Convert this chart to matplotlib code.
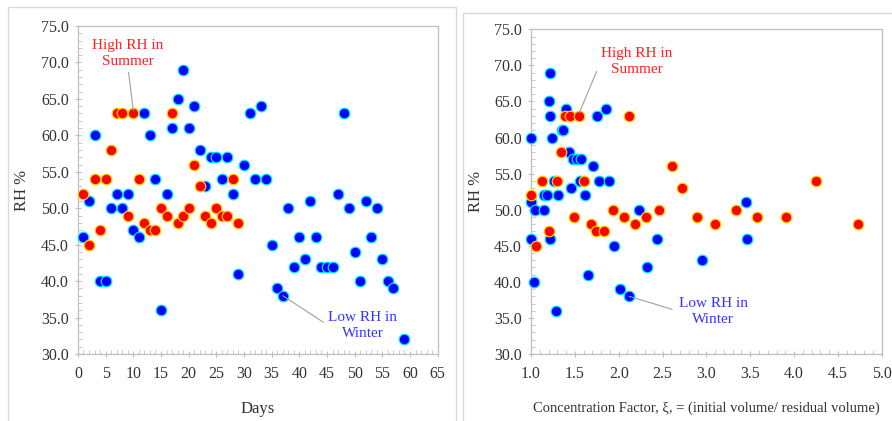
import matplotlib
matplotlib.use('Agg')
import matplotlib.pyplot as plt
from matplotlib.patches import Rectangle
from matplotlib.ticker import MultipleLocator, FormatStrFormatter

plt.rcParams['font.family'] = ['Liberation Serif', 'DejaVu Serif']
plt.rcParams['font.size'] = 11

# left panel: RH against sampling day
summer_days = list(range(1, 30))
summer_rh = [52, 45, 54, 47, 54, 58, 63, 63, 49, 63, 54, 48, 47, 47, 50, 49, 63, 48, 49, 50,
             56, 53, 49, 48, 50, 49, 49, 54, 48]
winter_days = list(range(1, 58)) + [59]
winter_rh = [46, 51, 60, 40, 40, 50, 52, 50, 52, 47, 46, 63, 60, 54, 36, 52, 61, 65, 69, 61,
             64, 58, 53, 57, 57, 54, 57, 52, 41, 56, 63, 54, 64, 54, 45, 39, 38, 50, 42, 46,
             43, 51, 46, 42, 42, 42, 52, 63, 50, 44, 40, 51, 46, 50, 43, 40, 39, 32]

# right panel: RH against concentration factor
summer_cf = [1.00, 1.06, 1.13, 1.21, 1.30, 1.34, 1.39, 1.45, 1.49, 1.55, 1.61, 1.68, 1.74, 1.83,
             1.94, 2.06, 2.12, 2.19, 2.31, 2.46, 2.61, 2.72, 2.89, 3.10, 3.34, 3.58, 3.91, 4.25, 4.73]
winter_cf = [1.00, 1.00, 1.00, 1.03, 1.04, 1.15, 1.15, 1.18, 1.21, 1.22, 1.22, 1.22, 1.24, 1.26,
             1.28, 1.31, 1.35, 1.365, 1.40, 1.43, 1.46, 1.48, 1.52, 1.555, 1.57, 1.62, 1.65, 1.71,
             1.75, 1.78, 1.85, 1.89, 1.95, 2.02, 2.12, 2.23, 2.32, 2.44, 2.95, 3.45, 3.46]
winter_cf_rh = [46, 51, 60, 40, 50, 50, 52, 52, 65, 69, 63, 46, 60, 54, 36, 52, 61, 61, 64, 58,
                53, 57, 57, 54, 57, 52, 41, 56, 63, 54, 64, 54, 45, 39, 38, 50, 42, 46, 43, 51, 46]

blue = '#0000ff'
cyan = '#00e5ff'
red = '#ff0000'
yellow = '#ffd000'
gray = '#bfbfbf'
red_txt = '#ff2020'
blue_txt = '#3333ff'

fig = plt.figure(figsize=(8.92, 4.21), dpi=100)

# outer chart frames
fig.patches.append(Rectangle((8 / 892, -0.05), (456 - 8) / 892, 1.05 - 7 / 421,
                             transform=fig.transFigure, fill=False, edgecolor='#d9d9d9', lw=1))
fig.patches.append(Rectangle((463 / 892, -0.05), 0.6, 1.05 - 13 / 421,
                             transform=fig.transFigure, fill=False, edgecolor='#d9d9d9', lw=1))

ax1 = fig.add_axes([0.0874, 0.1591, 0.4033, 0.7791])
ax2 = fig.add_axes([0.5953, 0.1591, 0.3932, 0.7713])


def style(ax):
    ax.set_ylim(30, 75)
    ax.yaxis.set_major_locator(MultipleLocator(5))
    ax.yaxis.set_minor_locator(MultipleLocator(1))
    ax.yaxis.set_major_formatter(FormatStrFormatter('%.1f'))
    for s in ax.spines.values():
        s.set_color(gray)
        s.set_linewidth(0.9)
    ax.tick_params(which='major', direction='inout', length=5, color=gray,
                   labelsize=11.5, labelcolor='#333333')
    ax.tick_params(which='minor', direction='in', length=3, color=gray)
    ax.tick_params(axis='y', pad=4)
    ax.tick_params(axis='x', pad=6)
    ax.set_ylabel('RH %', fontsize=12, color='#333333')


marker_kw = dict(s=58, linewidths=0.9, zorder=3, clip_on=False)
line_kw = dict(arrowstyle='-', color='#a0a0a0', lw=0.8, shrinkB=0)

style(ax1)
ax1.scatter(winter_days, winter_rh, c=blue, edgecolors=cyan, **marker_kw)
ax1.scatter(summer_days, summer_rh, c=red, edgecolors=yellow, **marker_kw)
ax1.set_xlim(0, 65)
ax1.xaxis.set_major_locator(MultipleLocator(5))
ax1.xaxis.set_minor_locator(MultipleLocator(1))
ax1.set_xlabel('Days', fontsize=12, color='#333333')
ax1.xaxis.set_label_coords(0.5, -0.143)
ax1.yaxis.set_label_coords(-0.133, 0.5)
ax1.annotate('High RH in\nSummer', xy=(10, 63.4), xytext=(9.05, 71.2), ha='center', va='center',
             color=red_txt, fontsize=11, linespacing=1.3,
             arrowprops=dict(relpos=(0.5, 0), shrinkA=1, **line_kw))
ax1.annotate('Low RH in\nWinter', xy=(37, 38), xytext=(51.5, 33.9), ha='center', va='center',
             color=blue_txt, fontsize=11, linespacing=1.3,
             arrowprops=dict(relpos=(0, 0.5), shrinkA=2, **line_kw))

style(ax2)
ax2.scatter(winter_cf, winter_cf_rh, c=blue, edgecolors=cyan, **marker_kw)
ax2.scatter(summer_cf, summer_rh, c=red, edgecolors=yellow, **marker_kw)
ax2.set_xlim(1.0, 5.0)
ax2.xaxis.set_major_locator(MultipleLocator(0.5))
ax2.xaxis.set_minor_locator(MultipleLocator(0.1))
ax2.xaxis.set_major_formatter(FormatStrFormatter('%.1f'))
ax2.set_xlabel('Concentration Factor, \u03be, = (initial volume/ residual volume)', fontsize=10.5,
               color='#333333')
ax2.xaxis.set_label_coords(0.5, -0.147)
ax2.yaxis.set_label_coords(-0.134, 0.5)
ax2.annotate('High RH in\nSummer', xy=(1.55, 63.4), xytext=(2.205, 70.6), ha='center', va='center',
             color=red_txt, fontsize=11, linespacing=1.3,
             arrowprops=dict(relpos=(0, 0.5), shrinkA=3, **line_kw))
ax2.annotate('Low RH in\nWinter', xy=(2.12, 38), xytext=(3.08, 35.9), ha='center', va='center',
             color=blue_txt, fontsize=11, linespacing=1.3,
             arrowprops=dict(relpos=(0, 0.5), shrinkA=3, **line_kw))

fig.savefig('out.png', dpi=100)
